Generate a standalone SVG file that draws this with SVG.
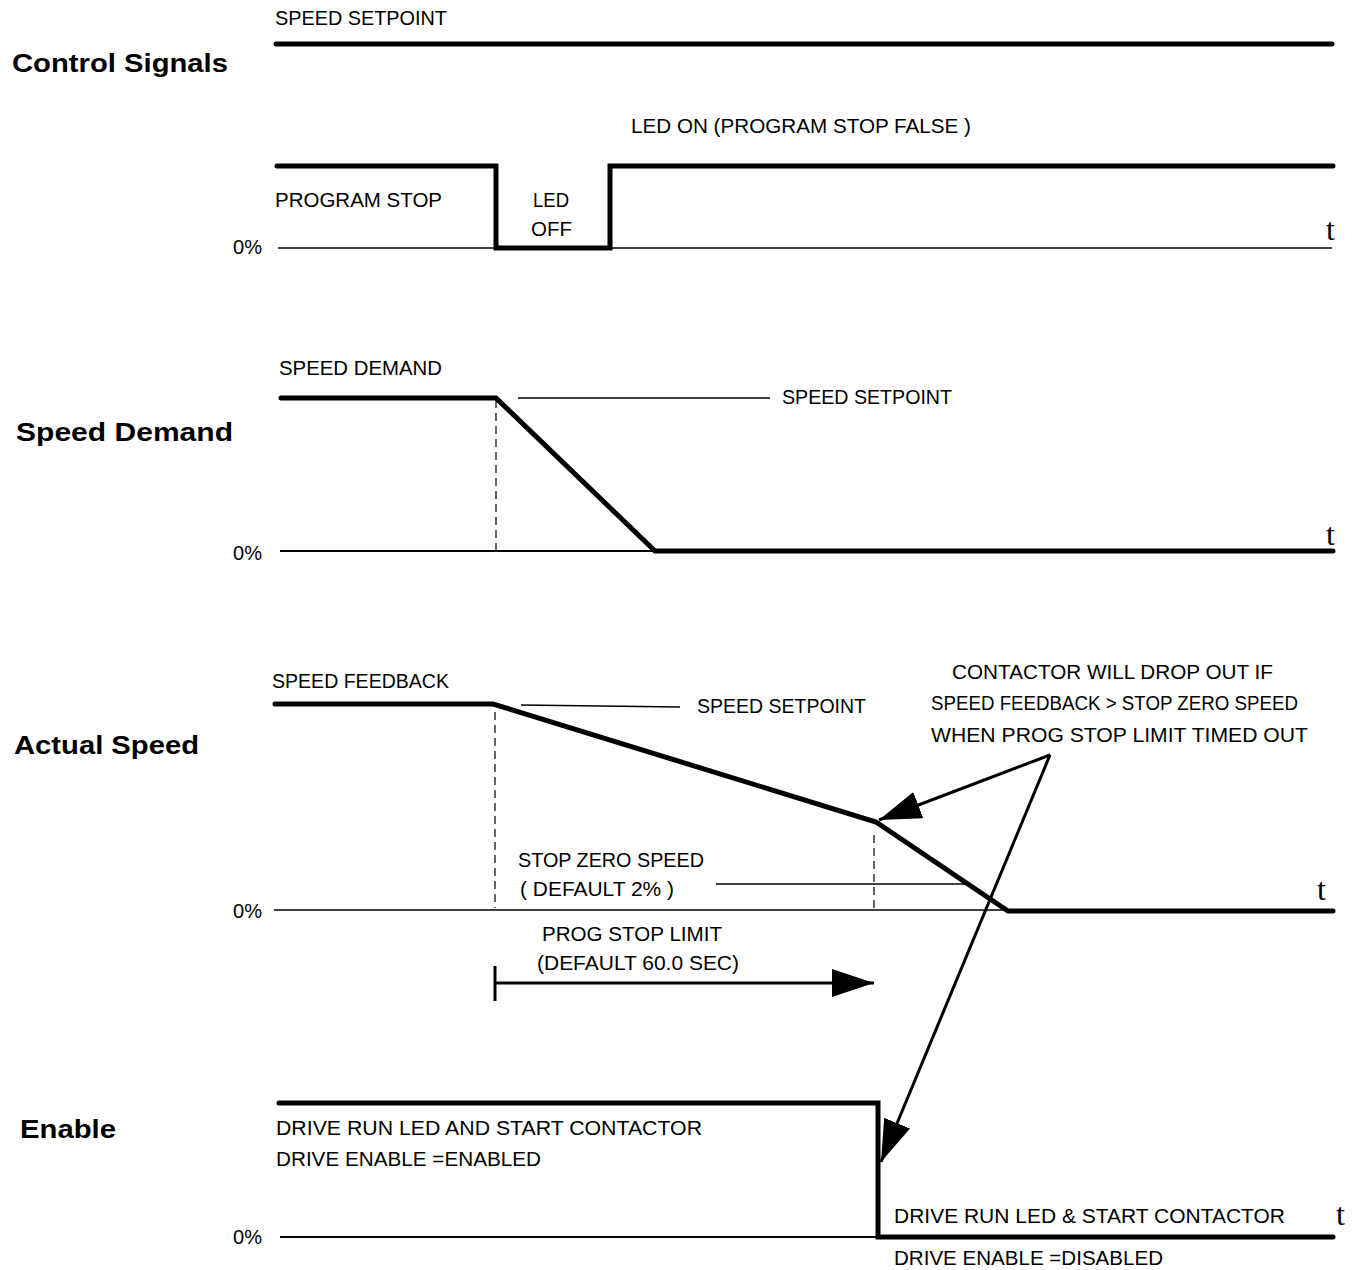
<svg xmlns="http://www.w3.org/2000/svg" width="1353" height="1270" viewBox="0 0 1353 1270">
<style>
text{font-family:"Liberation Sans",Arial,sans-serif;font-size:20px;fill:#000}
.title{font-weight:bold;font-size:25px}
.t{font-family:"Liberation Serif","Times New Roman",serif;font-size:32px}
.thick{fill:none;stroke:#000;stroke-width:5;stroke-linecap:round;stroke-linejoin:miter}
.thin{fill:none;stroke:#000;stroke-width:1.5}
.mid{fill:none;stroke:#000;stroke-width:2}
.dash{fill:none;stroke:#000;stroke-width:1.2;stroke-dasharray:8 5}
.lead{fill:none;stroke:#000;stroke-width:3}
</style>
<defs>
<marker id="ah" markerUnits="userSpaceOnUse" markerWidth="44" markerHeight="30" refX="42" refY="14" orient="auto">
<path d="M0,0 L42,14 L0,28 Z" fill="#000"/>
</marker>
</defs>
<rect width="1353" height="1270" fill="#fff"/>

<g id="control-signals">
<text class="title" x="12" y="72" textLength="216" lengthAdjust="spacingAndGlyphs">Control Signals</text>
<text x="275" y="25" textLength="172" lengthAdjust="spacingAndGlyphs">SPEED SETPOINT</text>
<path class="thick" d="M276,44 H1332"/>
<text x="631" y="133" textLength="340" lengthAdjust="spacingAndGlyphs">LED ON (PROGRAM STOP FALSE )</text>
<path class="thin" d="M278,248 H1332"/>
<path class="thick" d="M277,166 H496 V248 H610 V166 H1333"/>
<text x="275" y="207" textLength="167" lengthAdjust="spacingAndGlyphs">PROGRAM STOP</text>
<text x="533" y="207" textLength="36" lengthAdjust="spacingAndGlyphs">LED</text>
<text x="531" y="236" textLength="41" lengthAdjust="spacingAndGlyphs">OFF</text>
<text x="233" y="254" textLength="29" lengthAdjust="spacingAndGlyphs">0%</text>
<text class="t" x="1326" y="240">t</text>
</g>

<g id="speed-demand">
<text class="title" x="16" y="441" textLength="217" lengthAdjust="spacingAndGlyphs">Speed Demand</text>
<text x="279" y="375" textLength="163" lengthAdjust="spacingAndGlyphs">SPEED DEMAND</text>
<path class="mid" d="M280,551 H655"/>
<path class="dash" d="M496,400 V551"/>
<path class="thick" d="M281,398 H496 L655,551 H1333"/>
<text x="782" y="404" textLength="170" lengthAdjust="spacingAndGlyphs">SPEED SETPOINT</text>
<text x="233" y="560" textLength="29" lengthAdjust="spacingAndGlyphs">0%</text>
<text class="t" x="1326" y="545">t</text>
</g>

<g id="actual-speed">
<text class="title" x="14" y="754" textLength="185" lengthAdjust="spacingAndGlyphs">Actual Speed</text>
<text x="272" y="688" textLength="177" lengthAdjust="spacingAndGlyphs">SPEED FEEDBACK</text>
<path class="thin" d="M274,910 H1008"/>
<path class="dash" d="M495,712 V908"/>
<path class="dash" d="M874,835 V908"/>
<path class="thick" d="M275,704 H493 L876,822 L1008,911 H1333"/>
<text x="697" y="713" textLength="169" lengthAdjust="spacingAndGlyphs">SPEED SETPOINT</text>
<text x="518" y="867" textLength="186" lengthAdjust="spacingAndGlyphs">STOP ZERO SPEED</text>
<text x="520" y="896" textLength="154" lengthAdjust="spacingAndGlyphs">( DEFAULT 2% )</text>
<text x="233" y="918" textLength="29" lengthAdjust="spacingAndGlyphs">0%</text>
<text class="t" x="1317" y="900">t</text>
<text x="542" y="941" textLength="180" lengthAdjust="spacingAndGlyphs">PROG STOP LIMIT</text>
<text x="537" y="970" textLength="202" lengthAdjust="spacingAndGlyphs">(DEFAULT 60.0 SEC)</text>
<text x="952" y="679" textLength="321" lengthAdjust="spacingAndGlyphs">CONTACTOR WILL DROP OUT IF</text>
<text x="931" y="710" textLength="367" lengthAdjust="spacingAndGlyphs">SPEED FEEDBACK &gt; STOP ZERO SPEED</text>
<text x="931" y="742" textLength="377" lengthAdjust="spacingAndGlyphs">WHEN PROG STOP LIMIT TIMED OUT</text>
</g>

<g id="enable">
<text class="title" x="20" y="1138" textLength="96" lengthAdjust="spacingAndGlyphs">Enable</text>
<path class="mid" d="M280,1237 H878"/>
<path class="thick" d="M279,1103 H878 V1237 H1333"/>
<text x="276" y="1135" textLength="426" lengthAdjust="spacingAndGlyphs">DRIVE RUN LED AND START CONTACTOR</text>
<text x="276" y="1166" textLength="265" lengthAdjust="spacingAndGlyphs">DRIVE ENABLE =ENABLED</text>
<text x="894" y="1223" textLength="391" lengthAdjust="spacingAndGlyphs">DRIVE RUN LED &amp; START CONTACTOR</text>
<text x="894" y="1265" textLength="269" lengthAdjust="spacingAndGlyphs">DRIVE ENABLE =DISABLED</text>
<text x="233" y="1244" textLength="29" lengthAdjust="spacingAndGlyphs">0%</text>
<text class="t" x="1336" y="1225">t</text>
</g>

<g id="connectors">
<path class="thin" d="M518,398 H770"/>
<path class="thin" d="M521,705 L680,707"/>
<path class="thin" d="M716,884 H965"/>
<path class="lead" d="M495,966 V1001"/>
<path class="lead" d="M495,983 H874" marker-end="url(#ah)"/>
<path class="lead" d="M1050,755 L879,820" marker-end="url(#ah)"/>
<path class="lead" d="M1050,755 L881,1162" marker-end="url(#ah)"/>
</g>
</svg>
